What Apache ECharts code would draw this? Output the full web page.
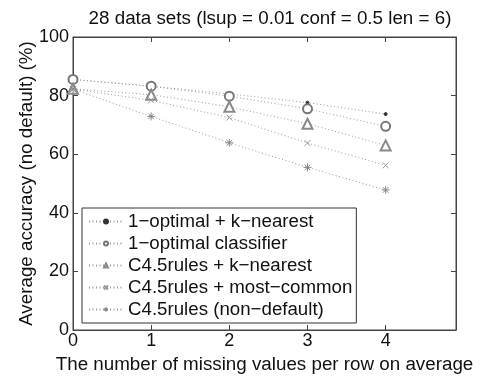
<!DOCTYPE html>
<html><head><meta charset="utf-8">
<script src="https://cdn.jsdelivr.net/npm/echarts@6/dist/echarts.min.js"></script>
<style>html,body{margin:0;padding:0;background:#fff}#c{width:490px;height:381px}</style>
</head><body><div id="c"></div>
<script>
const xValues = [0, 1, 2, 3, 4];
const seriesNames = ['1\u2212optimal + k\u2212nearest', '1\u2212optimal classifier', 'C4.5rules + k\u2212nearest', 'C4.5rules + most\u2212common', 'C4.5rules (non\u2212default)'];
const optKnn = [85.5, 83.2, 80.6, 77.6, 73.7];
const optCls = [85.5, 83.2, 79.8, 75.5, 69.5];
const c45Knn = [82.3, 80.3, 76.2, 70.4, 63.0];
const c45Common = [82.2, 78.4, 72.5, 63.8, 56.2];
const c45NonDef = [82.2, 72.9, 63.9, 55.5, 47.8];
const yTicks = [0, 20, 40, 60, 80, 100];

const FONT = 'Liberation Sans, Arial, Helvetica, sans-serif';
const allData = [optKnn, optCls, c45Knn, c45Common, c45NonDef];
const symbols = [
  'circle', 'emptyCircle', 'emptyTriangle',
  'path://M0,0L10,10M10,0L0,10',
  'path://M5,0L5,10M0,5L10,5M1.5,1.5L8.5,8.5M8.5,1.5L1.5,8.5'
];
const sizes = [3, 9, 10, 6, 8];
const markerColors = ['#333', '#777', '#8a8a8a', '#999', '#888'];

const chart = echarts.init(document.getElementById('c'), null, {renderer: 'canvas'});
const series = allData.map((d, i) => ({
  name: seriesNames[i],
  type: 'line',
  data: xValues.map((x, j) => [x, d[j]]),
  symbol: symbols[i],
  symbolSize: sizes[i],
  showAllSymbol: true,
  lineStyle: {color: '#9a9a9a', width: 1, type: [1, 2.5]},
  itemStyle: {color: markerColors[i], borderColor: markerColors[i], borderWidth: 1},
  emphasis: {disabled: true},
  animation: false,
  z: 3
}));

const tickStyle = {inside: true, length: 5, lineStyle: {color: '#444'}};
chart.setOption({
  animation: false,
  title: {
    text: '28 data sets (lsup = 0.01 conf = 0.5 len = 6)',
    left: 265, textAlign: 'center', top: 4,
    textStyle: {fontFamily: FONT, fontSize: 18.8, fontWeight: 'normal', color: '#111'}
  },
  grid: {left: 73, right: 34, top: 37, bottom: 51, show: true, borderColor: '#444', borderWidth: 1, backgroundColor: '#fff'},
  legend: {
    orient: 'vertical', left: 82, top: 208,
    data: seriesNames,
    itemWidth: 34, itemHeight: 5, itemGap: 3,
    padding: [4, 4, 4, 6],
    borderColor: '#333', borderWidth: 1, backgroundColor: '#fff',
    textStyle: {fontFamily: FONT, fontSize: 18.7, color: '#111', height: 19, lineHeight: 19},
    selectedMode: false
  },
  xAxis: [{
    type: 'value', min: 0, max: 4.9, interval: 1,
    name: 'The number of missing values per row on average',
    nameLocation: 'middle', nameGap: 25, nameMoveOverlap: false,
    nameTextStyle: {fontFamily: FONT, fontSize: 18.8, color: '#111'},
    axisLine: {show: true, onZero: false, lineStyle: {color: '#444'}},
    axisTick: tickStyle,
    axisLabel: {fontFamily: FONT, fontSize: 18, color: '#111', margin: 2, showMaxLabel: false,
      formatter: v => (Number.isInteger(v) ? String(v) : '')},
    splitLine: {show: false}
  }, {
    type: 'value', min: 0, max: 4.9, interval: 1, position: 'top',
    axisLine: {show: true, onZero: false, lineStyle: {color: '#444'}},
    axisTick: tickStyle,
    axisLabel: {show: false}, splitLine: {show: false}
  }],
  yAxis: [{
    type: 'value', min: 0, max: 100, interval: 20,
    name: 'Average accuracy (no default) (%)',
    nameLocation: 'middle', nameGap: 37, nameMoveOverlap: false,
    nameTextStyle: {fontFamily: FONT, fontSize: 18.8, color: '#111'},
    axisLine: {show: true, onZero: false, lineStyle: {color: '#444'}},
    axisTick: tickStyle,
    axisLabel: {fontFamily: FONT, fontSize: 18, color: '#111', margin: 4,
      formatter: v => (yTicks.includes(v) ? String(v) : '')},
    splitLine: {show: false}
  }, {
    type: 'value', min: 0, max: 100, interval: 20, position: 'right',
    axisLine: {show: true, onZero: false, lineStyle: {color: '#444'}},
    axisTick: tickStyle,
    axisLabel: {show: false}, splitLine: {show: false}
  }],
  series: series
});
</script></body></html>
